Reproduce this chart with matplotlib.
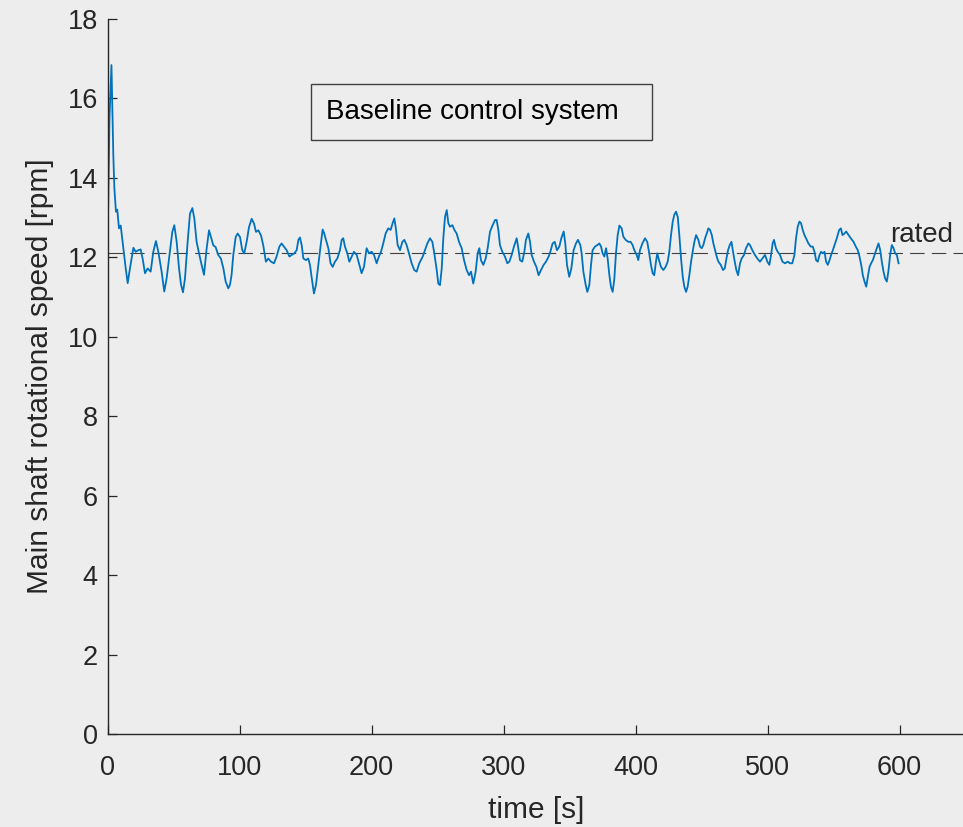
import matplotlib
matplotlib.use("Agg")
import matplotlib.pyplot as plt
from matplotlib.patches import Rectangle

plt.rcParams['font.family'] = ['Liberation Sans', 'DejaVu Sans']

# ---- data ----
time_a = [0, 0.6, 1.5, 3.0, 4.4, 5.2, 6.4, 7.4, 8.7, 10.0, 12.0, 13.8, 15.3, 17.0, 19.6, 21.3, 23.4, 25.1,
          26.6, 28.4, 30.4, 32.7, 34.7, 36.7, 38.5, 41.0, 43.0, 44.8, 47.3, 49.1, 50.6, 52.4, 54.2, 55.7,
          57.2, 58.7, 60.7, 62.5, 64.3, 65.8, 67.5, 69.6, 71.3, 73.1, 75.1, 76.9, 78.4, 80.2, 81.9, 83.9,
          85.9, 87.8, 89.5, 91.5, 92.8, 94.0, 95.3, 97.1, 98.6, 100.4, 102.1, 103.6, 105.4, 107.2, 109.2,
          111.0, 112.5, 114.3, 116.3, 118.0]
speed_a = [12.1, 13.5, 15.5, 16.84, 14.58, 13.74, 13.15, 13.2, 12.73, 12.8, 12.23, 11.72, 11.35, 11.72, 12.24,
           12.14, 12.18, 12.2, 11.97, 11.6, 11.72, 11.64, 12.14, 12.41, 12.14, 11.64, 11.14, 11.47, 12.14,
           12.64, 12.81, 12.39, 11.72, 11.31, 11.12, 11.47, 12.39, 13.1, 13.24, 12.97, 12.39, 12.06, 11.81,
           11.56, 12.22, 12.68, 12.51, 12.3, 12.26, 12.06, 11.97, 11.72, 11.39, 11.22, 11.31, 11.56, 12.06,
           12.51, 12.6, 12.51, 12.18, 12.1, 12.39, 12.76, 12.97, 12.85, 12.64, 12.68, 12.55, 12.3]

time_b = [120.0, 121.8, 123.9, 126.1, 128.1, 130.2, 131.9, 133.7, 135.7, 137.8, 139.5, 141.5, 143.3, 144.6,
          145.8, 147.1, 148.4, 150.4, 152.1, 153.4, 154.6, 156.4, 157.9, 159.7, 161.5, 163.0, 164.2, 165.5,
          167.3, 169.0, 170.6, 172.3, 174.1, 176.1, 177.4, 178.6, 179.9, 181.7, 183.2, 185.0, 186.7, 188.8,
          190.5, 192.5, 194.3, 196.3, 198.1, 200.1, 201.9, 203.9, 205.6, 207.2, 208.9, 210.7, 212.7, 214.5,
          216.0, 217.3, 218.6, 219.8, 221.6, 223.4, 224.9, 226.6, 228.4, 230.4, 232.4, 234.2, 236.2]
speed_b = [11.89, 11.97, 11.89, 11.85, 12.02, 12.27, 12.35, 12.27, 12.18, 12.02, 12.06, 12.1, 12.18, 12.44,
           12.5, 12.31, 11.97, 11.93, 11.97, 11.81, 11.51, 11.09, 11.3, 11.81, 12.31, 12.7, 12.6, 12.44,
           12.23, 11.85, 11.76, 11.89, 11.97, 12.18, 12.44, 12.48, 12.27, 12.1, 11.89, 12.02, 12.14, 12.06,
           11.85, 11.6, 11.76, 12.23, 12.1, 12.14, 12.06, 11.85, 12.02, 12.14, 12.35, 12.6, 12.73, 12.69,
           12.86, 12.98, 12.69, 12.31, 12.18, 12.39, 12.44, 12.31, 12.1, 11.85, 11.68, 11.64, 11.85]

time_c = [238.8, 240.5, 242.3, 244.3, 246.1, 247.6, 249.4, 250.6, 251.9, 253.2, 254.4, 255.7, 257.0, 258.2,
          259.5, 261.3, 262.8, 264.5, 266.3, 268.3, 270.1, 272.1, 273.9, 275.4, 277.1, 278.9, 280.4, 281.7,
          282.9, 284.7, 286.5, 288.0, 289.8, 291.8, 293.6, 294.8, 296.1, 297.3, 299.1, 301.1, 302.9, 304.4,
          306.2, 307.9, 310.0, 311.2, 312.5, 314.2, 315.8, 317.0, 318.8, 320.1, 321.3, 323.1, 324.9, 326.6,
          328.4, 330.4, 332.2, 334.2, 335.5, 337.2, 338.8, 340.5, 342.3, 343.8, 345.6, 346.8, 348.1, 349.8,
          351.4, 353.1, 354.9, 356.4, 358.2]
speed_c = [12.02, 12.18, 12.35, 12.48, 12.39, 12.1, 11.68, 11.34, 11.3, 11.72, 12.48, 13.02, 13.19, 12.86,
           12.77, 12.81, 12.69, 12.6, 12.39, 12.23, 11.93, 11.68, 11.55, 11.64, 11.34, 11.64, 12.1, 12.23,
           11.93, 11.81, 11.97, 12.23, 12.65, 12.81, 12.94, 12.94, 12.69, 12.31, 12.14, 12.02, 11.85, 11.89,
           12.06, 12.27, 12.48, 12.23, 11.93, 11.89, 12.14, 12.44, 12.6, 12.39, 12.06, 11.89, 11.76, 11.55,
           11.68, 11.81, 11.89, 12.02, 12.14, 12.35, 12.39, 12.18, 12.27, 12.48, 12.65, 12.35, 11.81, 11.51,
           11.72, 12.18, 12.35, 12.44, 12.31]

time_d = [359.2, 360.5, 362.3, 363.5, 365.0, 366.3, 367.5, 369.3, 371.1, 372.6, 373.9, 375.1, 376.4, 377.7,
          378.9, 380.2, 381.4, 382.7, 384.0, 385.2, 386.5, 387.8, 389.5, 390.8, 392.5, 394.6, 396.3, 397.8,
          399.1, 400.9, 402.1, 403.4, 405.2, 407.2, 408.9, 410.2, 411.7, 413.0, 414.2, 415.5, 416.5, 417.8,
          419.3, 421.1, 422.8, 424.4, 425.6, 426.9, 428.2, 429.4, 430.7, 432.0, 433.2, 434.5, 435.8, 437.0,
          438.3, 439.5, 440.8, 442.1, 443.3, 444.6, 445.9, 447.6, 448.9, 450.2, 451.4, 452.7, 454.0, 455.2,
          456.5, 457.8, 459.0, 460.3, 461.5, 462.8, 464.6, 466.3, 467.6, 468.9, 470.1, 471.4, 472.7, 473.9,
          475.2, 476.4, 477.7]
speed_d = [12.1, 11.64, 11.3, 11.13, 11.3, 11.81, 12.18, 12.27, 12.31, 12.35, 12.27, 12.1, 12.02, 12.23,
           11.97, 11.55, 11.26, 11.13, 11.47, 12.1, 12.56, 12.8, 12.73, 12.52, 12.44, 12.39, 12.39, 12.31,
           12.18, 12.06, 11.93, 12.18, 12.35, 12.48, 12.39, 12.14, 11.81, 11.6, 11.55, 11.89, 12.1, 11.93,
           11.76, 11.68, 11.76, 11.89, 12.14, 12.56, 12.9, 13.07, 13.15, 13.02, 12.56, 11.97, 11.51, 11.26,
           11.13, 11.26, 11.55, 11.89, 12.14, 12.39, 12.56, 12.44, 12.27, 12.23, 12.31, 12.48, 12.6, 12.73,
           12.69, 12.56, 12.35, 12.18, 12.02, 11.89, 11.81, 11.68, 11.72, 11.97, 12.18, 12.31, 12.39, 12.14,
           11.89, 11.68, 11.55]

time_e = [479.2, 480.4, 482.2, 483.7, 485.5, 486.7, 488.5, 490.5, 492.3, 494.3, 496.1, 498.1, 499.9, 501.4,
          502.7, 503.9, 504.9, 506.4, 507.7, 509.5, 511.3, 513.3, 515.3, 517.1, 518.8, 520.4, 521.6, 522.9,
          524.2, 525.4, 526.7, 528.0, 529.2, 531.0, 532.8, 534.3, 535.6, 536.8, 538.1, 539.4, 540.6, 541.9,
          543.2, 544.4, 545.7, 547.0, 548.2, 549.5, 550.8, 552.5, 554.3, 555.6, 556.8, 558.3, 559.6, 561.4,
          563.1, 565.2, 566.9, 568.4, 569.7, 571.0, 572.2, 573.5, 574.8, 576.0, 577.3, 578.5, 579.8, 581.1,
          582.8, 584.1, 585.4, 586.6, 587.9, 589.1, 590.4, 591.7, 592.9, 594.2, 595.5, 596.7, 598.0, 599.3]
speed_e = [11.85, 11.97, 12.06, 12.23, 12.35, 12.31, 12.18, 12.06, 11.97, 11.89, 11.97, 12.06, 11.89, 11.81,
           12.06, 12.35, 12.44, 12.23, 12.14, 12.06, 11.89, 11.85, 11.89, 11.85, 11.85, 12.06, 12.48, 12.77,
           12.9, 12.86, 12.69, 12.56, 12.48, 12.35, 12.27, 12.27, 12.14, 11.93, 11.89, 12.06, 12.14, 12.1,
           12.14, 11.89, 11.81, 11.93, 12.06, 12.18, 12.31, 12.48, 12.69, 12.73, 12.56, 12.6, 12.65, 12.56,
           12.48, 12.39, 12.27, 12.18, 12.02, 11.81, 11.55, 11.39, 11.26, 11.51, 11.76, 11.85, 11.93, 12.06,
           12.23, 12.35, 12.18, 11.89, 11.64, 11.47, 11.39, 11.68, 12.06, 12.31, 12.23, 12.1, 12.06, 11.85]

rated_speed = 12.1
x_limits = [0, 650]
y_limits = [0, 18]
x_ticks = [0, 100, 200, 300, 400, 500, 600]
y_ticks = [0, 2, 4, 6, 8, 10, 12, 14, 16, 18]
box_text = "Baseline control system"
rated_text = "rated"

time_s = time_a + time_b + time_c + time_d + time_e
speed = speed_a + speed_b + speed_c + speed_d + speed_e

# ---- figure ----
W, H = 963, 827
bg = '#ededed'
dark = '#262626'
fig = plt.figure(figsize=(W / 100, H / 100), dpi=100, facecolor=bg)
left, right, top, bottom = 107.5, 965.5, 19, 734
ax = fig.add_axes([left / W, 1 - bottom / H, (right - left) / W, (bottom - top) / H])
ax.set_facecolor(bg)

ax.axhline(rated_speed, color='#404040', lw=0.8, dashes=(13, 6.5), zorder=1)
ax.plot(time_s, speed, color='#0072BD', lw=1.3, zorder=2)

ax.set_xlim(x_limits)
ax.set_ylim(y_limits)
ax.set_xticks(x_ticks)
ax.set_yticks(y_ticks)
for s in ['top', 'right']:
    ax.spines[s].set_visible(False)
for s in ['left', 'bottom']:
    ax.spines[s].set_color(dark)
    ax.spines[s].set_linewidth(1.0)
ax.tick_params(direction='in', length=6.5, width=0.9, color=dark, labelcolor=dark,
               labelsize=19.5)
ax.tick_params(axis='x', pad=15)
ax.tick_params(axis='y', pad=7)

ax.set_xlabel('time [s]', fontsize=21.5, color=dark, labelpad=11)
ax.set_ylabel('Main shaft rotational speed [rpm]', fontsize=21.5, color=dark, labelpad=10)

ax.text(592.8, 12.39, rated_text, fontsize=20, color=dark, ha='left', va='baseline')

# annotation text box (figure pixel geometry)
fig.add_artist(Rectangle((311 / W, 1 - 140 / H), (652 - 311) / W, (140 - 84) / H,
                         transform=fig.transFigure, facecolor=bg, edgecolor='#404040', lw=1.0))
fig.text(326 / W, 1 - 112 / H, box_text, fontsize=20, color='black', ha='left', va='center')

fig.savefig('out.png', dpi=100, facecolor=bg)
